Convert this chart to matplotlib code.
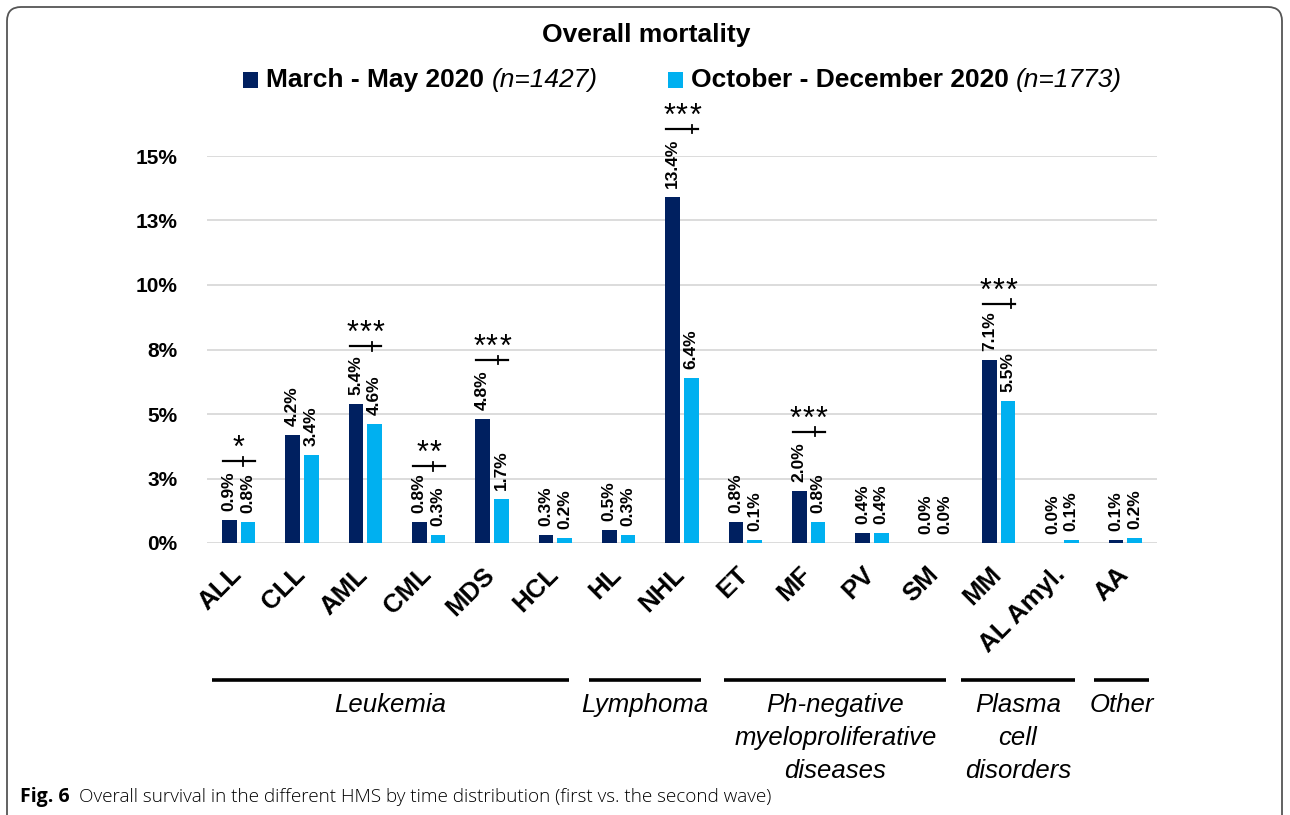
import matplotlib
matplotlib.use('Agg')
import matplotlib.pyplot as plt
import matplotlib.transforms as mtransforms
from matplotlib.patches import FancyBboxPatch, Rectangle

# ---------------- data ----------------
categories = ['ALL', 'CLL', 'AML', 'CML', 'MDS', 'HCL', 'HL', 'NHL',
              'ET', 'MF', 'PV', 'SM', 'MM', 'AL Amyl.', 'AA']
first_wave = [0.9, 4.2, 5.4, 0.8, 4.8, 0.3, 0.5, 13.4, 0.8, 2.0, 0.4, 0.0, 7.1, 0.0, 0.1]
second_wave = [0.8, 3.4, 4.6, 0.3, 1.7, 0.2, 0.3, 6.4, 0.1, 0.8, 0.4, 0.0, 5.5, 0.1, 0.2]
first_label = 'March - May 2020'
first_n = '(n=1427)'
second_label = 'October - December 2020'
second_n = '(n=1773)'

ytick_values = [0, 2.5, 5, 7.5, 10, 12.5, 15]
ytick_labels = ['0%', '3%', '5%', '8%', '10%', '13%', '15%']

sig_categories = ['ALL', 'AML', 'CML', 'MDS', 'NHL', 'MF', 'MM']
sig_stars = [1, 3, 2, 3, 3, 3, 3]
sig_levels = [3.17, 7.63, 2.97, 7.09, 16.05, 4.31, 9.28]
sig_tick_offset = [0.07, 0.1, 0.07, 0.1, 0.16, 0.1, 0.2]

group_names = ['Leukemia', 'Lymphoma', 'Ph-negative\nmyeloproliferative\ndiseases',
               'Plasma\ncell\ndisorders', 'Other']
group_starts = [-0.42, 5.53, 7.67, 11.41, 13.51]
group_ends = [5.22, 7.30, 11.17, 13.20, 14.38]

title = 'Overall mortality'
caption_bold = 'Fig. 6'
caption_text = 'Overall survival in the different HMS by time distribution (first vs. the second wave)'

DARK = '#002060'
LIGHT = '#00B0F0'
GRID = '#D9D9D9'
FONT = 'Liberation Sans'

W, H = 1290, 815
fig = plt.figure(figsize=(W / 100, H / 100), dpi=100)
plt.rcParams['font.family'] = [FONT, 'DejaVu Sans']

def fy(py):
    return 1 - py / H

ax = fig.add_axes([207 / W, fy(543), 950 / W, 387 / H])
ax.set_xlim(-0.5, len(categories) - 0.5)
ax.set_ylim(0, 15)
for s in ax.spines.values():
    s.set_visible(False)
ax.set_yticks(ytick_values)
ax.set_yticklabels(ytick_labels, fontsize=15, fontweight='bold')
ax.tick_params(axis='y', length=0, pad=21.5)
ax.set_xticks([])
for v in ytick_values:
    ax.axhline(v, color=GRID, lw=1.3, zorder=0)

x = list(range(len(categories)))
bw = 0.235
off = 0.148
ax.bar([i - off for i in x], first_wave, width=bw, color=DARK, zorder=2)
ax.bar([i + off for i in x], second_wave, width=bw, color=LIGHT, zorder=2)

# value labels
for i in x:
    ax.annotate(f'{first_wave[i]:.1f}%', (i - off, first_wave[i]), xytext=(0, 6.5),
                textcoords='offset points', rotation=90, ha='center', va='bottom',
                fontsize=12.5, fontweight='bold', color='black')
    ax.annotate(f'{second_wave[i]:.1f}%', (i + off, second_wave[i]), xytext=(0, 6.5),
                textcoords='offset points', rotation=90, ha='center', va='bottom',
                fontsize=12.5, fontweight='bold', color='black')

# category labels
blend = mtransforms.blended_transform_factory(ax.transData, ax.transAxes)
lab_off = mtransforms.ScaledTranslation(4 / 100, -33 / 100, fig.dpi_scale_trans)
for i, c in enumerate(categories):
    ax.text(i, 0, c, transform=blend + lab_off, rotation=45, ha='right', va='baseline',
            rotation_mode='anchor', fontsize=18.5, fontweight='bold', color='black')

# significance brackets
for c, nst, lvl, toff in zip(sig_categories, sig_stars, sig_levels, sig_tick_offset):
    i = categories.index(c)
    ax.plot([i - 0.25, i + 0.25], [lvl, lvl], color='black', lw=1.6, clip_on=False, zorder=3)
    ax.plot([i + toff, i + toff], [lvl - 0.17, lvl + 0.17], color='black', lw=1.3,
            clip_on=False, zorder=3)
    for k in range(nst):
        dx = (k - (nst - 1) / 2) * 13 * 0.72
        ax.annotate('*', (i, lvl), xytext=(dx, 3), textcoords='offset points', ha='center',
                    va='baseline', fontsize=22, color='black', annotation_clip=False)

# group lines and labels
gblend = mtransforms.blended_transform_factory(ax.transData, fig.transFigure)
for name, s, e in zip(group_names, group_starts, group_ends):
    ax.plot([s, e], [fy(680), fy(680)], transform=gblend, color='black', lw=2.6,
            clip_on=False, solid_capstyle='butt')
    ax.text((s + e) / 2, fy(693), name, transform=gblend, ha='center', va='top',
            fontsize=18.5, fontstyle='italic', linespacing=1.47, color='black')

# title
fig.text(646 / W, fy(35), title, ha='center', va='center', fontsize=19, fontweight='bold')

# legend (manual, mixed styles)
fig.canvas.draw()
renderer = fig.canvas.get_renderer()

def legend_entry(sq_x, text_x, label, ntext, color):
    fig.patches.append(Rectangle((sq_x / W, fy(88)), 15 / W, 16 / H, transform=fig.transFigure,
                                 facecolor=color, edgecolor='none'))
    t1 = fig.text(text_x / W, fy(80), label + ' ', ha='left', va='center', fontsize=19,
                  fontweight='bold')
    bb = t1.get_window_extent(renderer)
    fig.text(bb.x1 / W, fy(80), ntext, ha='left', va='center', fontsize=19,
             fontstyle='italic')

legend_entry(243, 266, first_label, first_n, DARK)
legend_entry(668, 691, second_label, second_n, LIGHT)

# caption
c1 = fig.text(20 / W, fy(802), caption_bold, ha='left', va='baseline', fontsize=14,
              fontweight='bold', family='Open Sans')
bb = c1.get_window_extent(renderer)
fig.text((bb.x1 + 9) / W, fy(802), caption_text, ha='left', va='baseline', fontsize=13.6,
         family='Open Sans', fontweight='light')

# frame
frame = FancyBboxPatch((7, -20), W - 15, H - 7 + 20,
                       boxstyle='round,pad=0,rounding_size=14', transform=None,
                       facecolor='none', edgecolor='#555555', lw=1.3)
fig.patches.append(frame)

fig.savefig('out.png', dpi=100)
